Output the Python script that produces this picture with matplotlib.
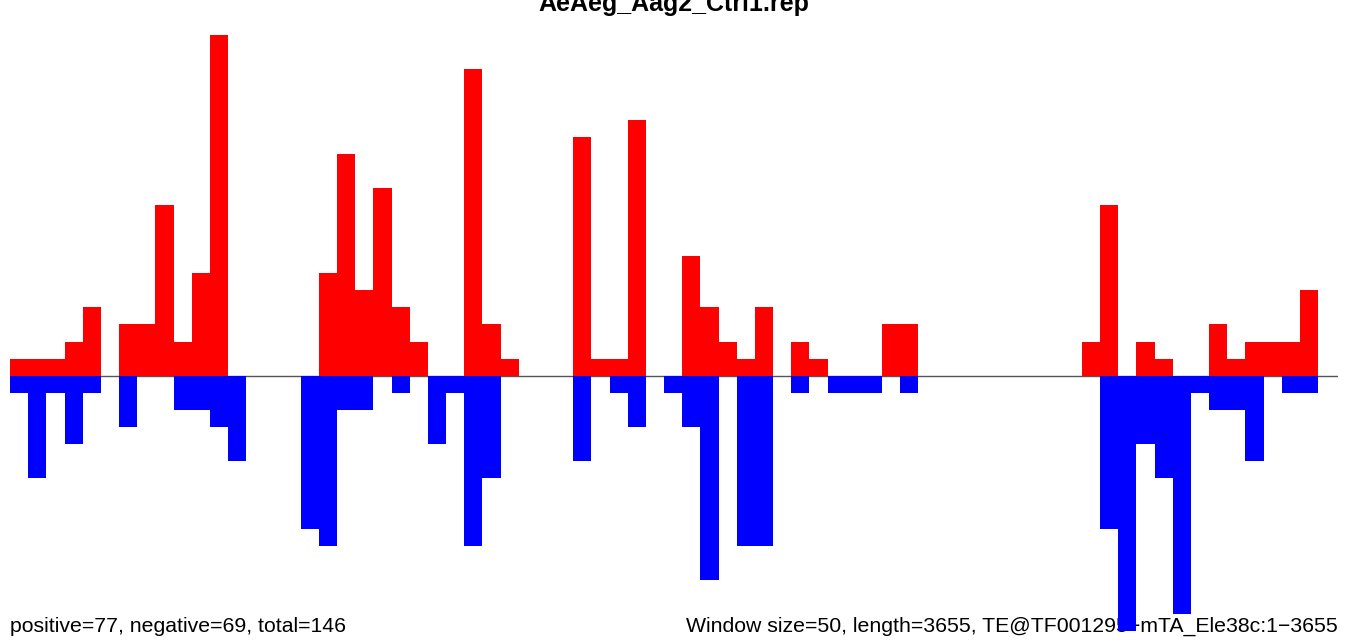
import matplotlib
matplotlib.use("Agg")
import matplotlib.pyplot as plt

plt.rcParams['font.family'] = ['Liberation Sans', 'DejaVu Sans']

title = "AeAeg_Aag2_Ctrl1.rep"
seq_length = 3655
window = 50

# counts per 50bp window (sense above, antisense below)
positive = [1, 1, 1, 2, 4, 0, 3, 3, 10, 2, 6, 20, 0, 0, 0, 0, 0, 6, 13, 5,
            11, 4, 2, 0, 0, 18, 3, 1, 0, 0, 0, 14, 1, 1, 15, 0, 0, 7, 4, 2,
            1, 4, 0, 2, 1, 0, 0, 0, 3, 3, 0, 0, 0, 0, 0, 0, 0, 0, 0, 2,
            10, 0, 2, 1, 0, 0, 3, 1, 2, 2, 2, 5]
negative = [1, 6, 1, 4, 1, 0, 3, 0, 0, 2, 2, 3, 5, 0, 0, 0, 9, 10, 2, 2,
            0, 1, 0, 4, 1, 10, 6, 0, 0, 0, 0, 5, 0, 1, 3, 0, 1, 3, 12, 0,
            10, 10, 0, 1, 0, 1, 1, 1, 0, 1, 0, 0, 0, 0, 0, 0, 0, 0, 0, 0,
            9, 15, 4, 6, 14, 1, 2, 2, 5, 0, 1, 1]

left_label = "positive=77, negative=69, total=146"
right_label = "Window size=50, length=3655, TE@TF001295\u2212mTA_Ele38c:1\u22123655"

starts = [i * window for i in range(len(positive))]

fig = plt.figure(figsize=(13.5, 6.44), dpi=100)
ax = fig.add_axes([10 / 1350, 13 / 644, 1328 / 1350, 596 / 644])

ax.axhline(0, color='#555555', lw=1.0, zorder=0.8)
ax.bar(starts, positive, width=window, align='edge', color='#ff0000', lw=0, zorder=2)
ax.bar(starts, [-v for v in negative], width=window, align='edge', color='#0000ff', lw=0, zorder=2)

ax.set_xlim(0, seq_length)
ax.set_ylim(-15, 20)
ax.axis('off')

ax.text(0.5, 620 / 596, title, transform=ax.transAxes, ha='center', va='baseline',
        fontsize=18, fontweight='bold', clip_on=False)
ax.text(0, -1 / 596, left_label, transform=ax.transAxes, ha='left', va='baseline',
        fontsize=15.3, zorder=0.5, clip_on=False)
ax.text(1, -1 / 596, right_label, transform=ax.transAxes, ha='right', va='baseline',
        fontsize=15.3, zorder=0.5, clip_on=False)

fig.savefig("out.png", dpi=100)
